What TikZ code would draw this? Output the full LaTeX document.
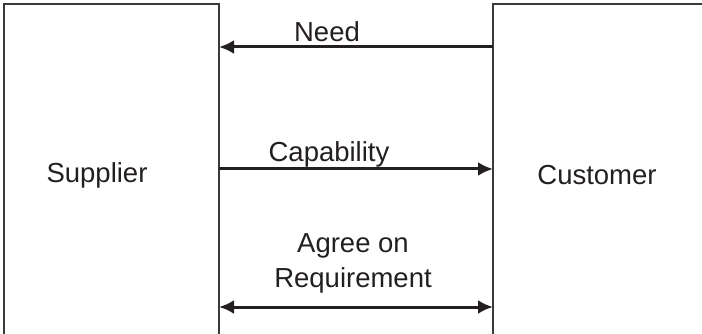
\documentclass[tikz,border=0pt]{standalone}
\usepackage{fontspec}
\setmainfont{Liberation Sans}
\usetikzlibrary{arrows.meta}
\definecolor{ink}{HTML}{231F20}
\definecolor{edge}{HTML}{3A3A3A}
\begin{document}
\begin{tikzpicture}[x=1pt,y=-1pt,
  box/.style={draw=edge,line width=1.3pt,minimum width=215pt,minimum height=340pt,inner sep=0pt,outer sep=0pt},
  lbl/.style={font=\fontsize{27.5}{35}\selectfont,text=ink,inner sep=0pt},
  arr/.style={draw=ink,line width=3pt,-{Latex[length=15pt,width=14pt]}},
  darr/.style={draw=ink,line width=3pt,{Latex[length=15pt,width=14pt]}-{Latex[length=15pt,width=14pt]}}]
\useasboundingbox (0,0) rectangle (702,334);
\node[box] (sup) at (111.5,174) {};
\node[box] (cus) at (600.5,174) {};
\node[lbl] (supt) at (97,175) {Supplier};
\node[lbl] (cust) at (597,175) {Customer};
\coordinate (n1) at (sup.east |- 0,47);
\coordinate (n2) at (cus.west |- 0,47);
\coordinate (c1) at (sup.east |- 0,169);
\coordinate (c2) at (cus.west |- 0,169);
\coordinate (a1) at (sup.east |- 0,307);
\coordinate (a2) at (cus.west |- 0,307);
\draw[arr] (n2) -- (n1);
\draw[arr] (c1) -- (c2);
\draw[darr] (a1) -- (a2);
\node[lbl] (needt) at (327,32) {Need};
\node[lbl] (capt) at (329,154) {Capability};
\node[lbl,align=center] (agrt) at (353,263) {Agree on\\Requirement};
\end{tikzpicture}
\end{document}
